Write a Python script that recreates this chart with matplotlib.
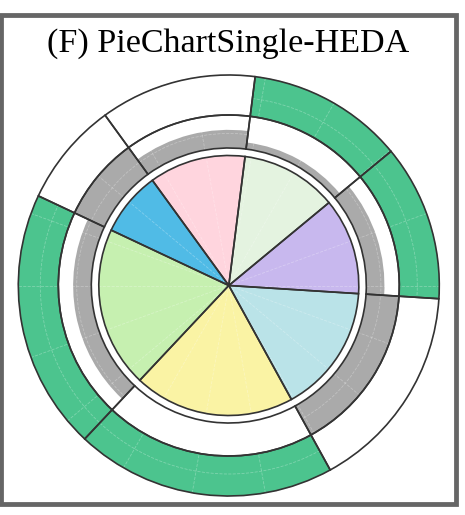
import numpy as np
import matplotlib
matplotlib.use("Agg")
import matplotlib.pyplot as plt
from matplotlib.patches import Rectangle

# ---- data (counter-clockwise order, starting just below 3 o'clock) ----
categories = ["Purple", "Mint", "Pink", "Blue", "Green", "Yellow", "Cyan"]
shares = [3, 3, 3, 2, 5, 5, 4]
slice_colors = ["#c8b8ee", "#e4f3e0", "#ffd5de", "#50bbe6", "#c6f0b0", "#faf3a4", "#bae3e8"]
inner_ring_values = [0.55, 0.2, 0.55, 1.0, 0.55, 0.0, 1.0]
outer_ring_values = [1, 1, 0, 0, 1, 1, 0]
start_angle_deg = -3.6
title = "(F) PieChartSingle-HEDA"

# ---- geometry ----
W, H = 465, 515
cx, cy = 228.8, 285.5          # centre in pixels (from top-left)
unit = 130.0                   # pie radius in pixels
R_pie = 1.0
R1_in, R1_out = 137.5 / unit, 170.5 / unit
R2_in, R2_out = R1_out, 210.5 / unit
R_max = 212.0 / unit

edge = "#333333"
gray = "#aaaaaa"
green = "#4cc48e"

fig = plt.figure(figsize=(W / 100, H / 100), dpi=100)
rad_px = R_max * unit
ax = fig.add_axes([(cx - rad_px) / W, (H - cy - rad_px) / H, 2 * rad_px / W, 2 * rad_px / H],
                  projection="polar")

shares_arr = np.array(shares, dtype=float)
widths = 2 * np.pi * shares_arr / shares_arr.sum()
lefts = np.deg2rad(start_angle_deg) + np.concatenate([[0], np.cumsum(widths)[:-1]])

# pie
ax.bar(lefts, R_pie, width=widths, bottom=0, align="edge", color=slice_colors,
       edgecolor="none", linewidth=0, zorder=1)
ax.bar(lefts, R_pie, width=widths, bottom=0, align="edge", fill=False,
       edgecolor=edge, linewidth=1.2, zorder=3)

# inner ring (gray bars)
ring1 = R1_out - R1_in
ax.bar(lefts, np.array(inner_ring_values) * ring1, width=widths, bottom=R1_in, align="edge",
       color=gray, edgecolor="none", linewidth=0, zorder=1)
ax.bar(lefts, ring1, width=widths, bottom=R1_in, align="edge", fill=False,
       edgecolor=edge, linewidth=1.2, zorder=3)

# outer ring (green bars)
ring2 = R2_out - R2_in
ax.bar(lefts, np.array(outer_ring_values) * ring2, width=widths, bottom=R2_in, align="edge",
       color=green, edgecolor="none", linewidth=0, zorder=1)
ax.bar(lefts, ring2, width=widths, bottom=R2_in, align="edge", fill=False,
       edgecolor=edge, linewidth=1.2, zorder=3)

ax.set_ylim(0, R_max)
ax.set_xticks(np.deg2rad(np.arange(0, 360, 20)))
ax.set_xticklabels([])
ax.set_yticks([1.17, 1.45])
ax.set_yticklabels([])
ax.grid(True, color="white", linestyle="--", linewidth=0.6, alpha=0.28)
ax.spines["polar"].set_visible(False)
ax.patch.set_alpha(0)
ax.tick_params(length=0)

# title
fig.text(228 / W, 1 - 51.3 / H, title, ha="center", va="baseline",
         family=["Liberation Serif", "DejaVu Serif"], fontsize=24.5, color="black")

# frame
lw_px = 4.8
x0, x1 = 1.0, 455.7
y0, y1 = 15.0, 503.5
fig.add_artist(Rectangle((x0 / W, 1 - y1 / H), (x1 - x0) / W, (y1 - y0) / H,
                         transform=fig.transFigure, fill=False, edgecolor="#666666",
                         linewidth=lw_px * 72 / 100))

fig.savefig("out.png", dpi=100)
